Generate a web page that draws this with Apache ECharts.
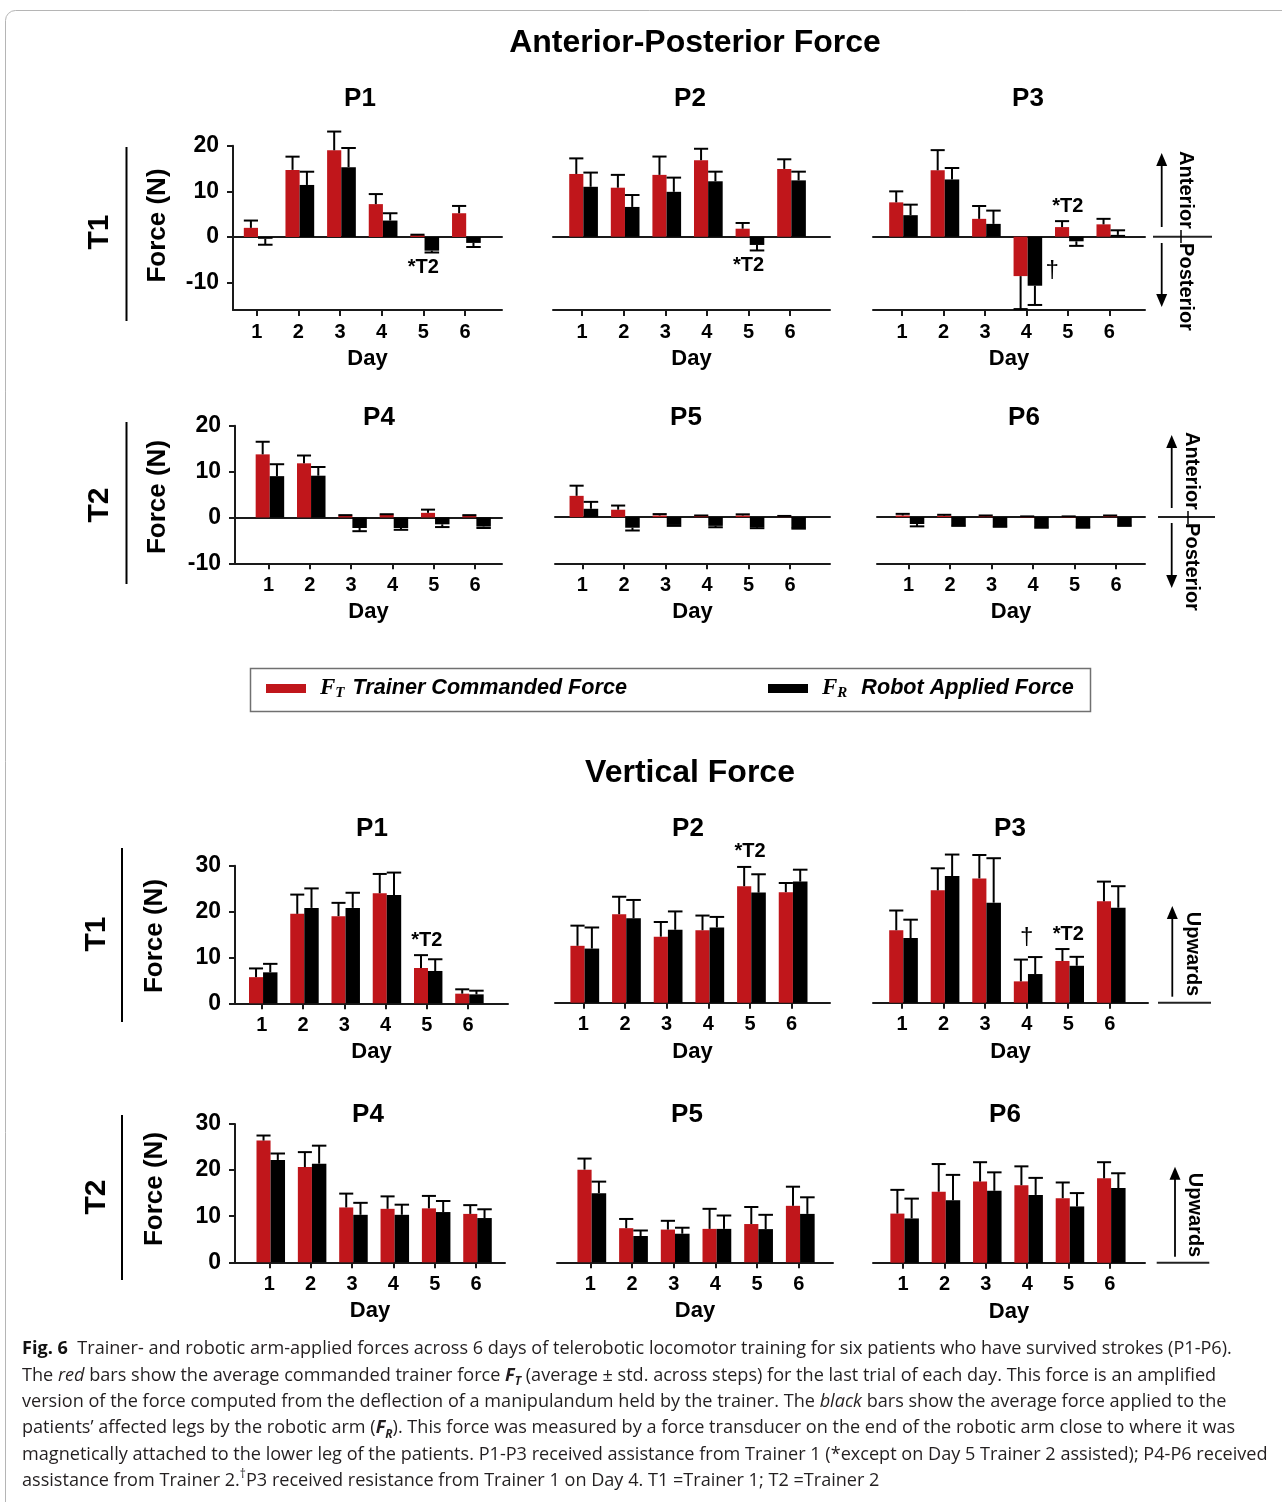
<!DOCTYPE html>
<html>
<head>
<meta charset="utf-8">
<script src="https://cdn.jsdelivr.net/npm/echarts@6/dist/echarts.min.js"></script>
<style>
html,body{margin:0;padding:0;background:#fff;}
#c{width:1282px;height:1502px;}
</style>
</head>
<body>
<div id="c"></div>
<script>
// ---------- DATA ----------
const days = [1, 2, 3, 4, 5, 6];
const apTicks = [-10, 0, 10, 20];
const vTicks = [0, 10, 20, 30];

// Anterior-Posterior force (N): mean and std for trainer (FT) and robot (FR)
const apP1_FT = [2.0, 14.7, 19.0, 7.2, 0.4, 5.2];
const apP1_FTsd = [1.6, 2.9, 4.1, 2.2, 0.1, 1.6];
const apP1_FR = [-0.4, 11.4, 15.3, 3.6, -3.0, -1.3];
const apP1_FRsd = [1.3, 2.9, 4.2, 1.6, 0.4, 0.9];

const apP2_FT = [13.7, 10.7, 13.5, 16.7, 1.75, 14.8];
const apP2_FTsd = [3.4, 2.8, 4.0, 2.5, 1.25, 2.1];
const apP2_FR = [10.9, 6.5, 9.8, 12.1, -1.8, 12.3];
const apP2_FRsd = [3.1, 2.6, 3.1, 2.1, 1.2, 1.9];

const apP3_FT = [7.5, 14.5, 3.9, -8.6, 2.1, 2.7];
const apP3_FTsd = [2.4, 4.4, 2.8, 7.2, 1.3, 1.2];
const apP3_FR = [4.7, 12.5, 2.8, -10.7, -1.0, 0.4];
const apP3_FRsd = [2.3, 2.5, 2.9, 4.2, 1.0, 1.0];

const apP4_FT = [13.75, 11.8, 0.4, 0.6, 1.0, 0.4];
const apP4_FTsd = [2.75, 1.7, 0.1, 0.1, 0.7, 0.1];
const apP4_FR = [9.0, 9.1, -2.3, -2.3, -1.5, -2.0];
const apP4_FRsd = [2.6, 1.9, 0.7, 0.4, 0.6, 0.3];

const apP5_FT = [4.6, 1.6, 0.35, 0.3, 0.35, 0.2];
const apP5_FTsd = [2.2, 0.9, 0.3, 0.05, 0.25, 0.05];
const apP5_FR = [1.8, -2.3, -1.7, -1.9, -2.2, -2.4];
const apP5_FRsd = [1.5, 0.6, 0.2, 0.3, 0.2, 0.1];

const apP6_FT = [0.35, 0.3, 0.2, 0.1, 0.1, 0.2];
const apP6_FTsd = [0.35, 0.2, 0.15, 0.05, 0.05, 0.15];
const apP6_FR = [-1.5, -1.8, -2.0, -2.2, -2.2, -1.8];
const apP6_FRsd = [0.5, 0.1, 0.1, 0.1, 0.1, 0.1];

// Vertical force (N)
const vP1_FT = [5.7, 19.5, 19.0, 24.0, 7.7, 2.1];
const vP1_FTsd = [1.9, 4.2, 2.9, 4.2, 2.8, 0.95];
const vP1_FR = [6.75, 20.8, 20.8, 23.6, 7.05, 1.95];
const vP1_FRsd = [1.85, 4.25, 3.3, 4.9, 2.55, 0.8];

const vP2_FT = [12.4, 19.3, 14.4, 15.8, 25.4, 24.1];
const vP2_FTsd = [4.4, 3.8, 3.2, 3.2, 4.2, 2.0];
const vP2_FR = [11.8, 18.4, 15.9, 16.4, 24.0, 26.4];
const vP2_FRsd = [4.6, 4.0, 4.0, 2.3, 4.0, 2.6];

const vP3_FT = [15.8, 24.5, 27.1, 4.65, 9.1, 22.1];
const vP3_FTsd = [4.3, 4.8, 5.1, 4.75, 2.6, 4.3];
const vP3_FR = [14.1, 27.6, 21.8, 6.25, 8.05, 20.7];
const vP3_FRsd = [4.0, 4.7, 9.7, 3.7, 1.95, 4.7];

const vP4_FT = [26.4, 20.65, 11.9, 11.6, 11.7, 10.5];
const vP4_FTsd = [1.1, 3.25, 3.0, 2.7, 2.7, 1.9];
const vP4_FR = [22.2, 21.4, 10.3, 10.3, 10.9, 9.6];
const vP4_FRsd = [1.4, 3.9, 2.6, 2.2, 2.4, 1.9];

const vP5_FT = [20.1, 7.4, 7.1, 7.25, 8.3, 12.25];
const vP5_FTsd = [2.4, 2.0, 1.9, 4.35, 3.7, 4.15];
const vP5_FR = [15.0, 5.7, 6.2, 7.25, 7.2, 10.5];
const vP5_FRsd = [2.5, 1.2, 1.3, 2.9, 3.1, 3.6];

const vP6_FT = [10.65, 15.4, 17.6, 16.8, 14.0, 18.3];
const vP6_FTsd = [5.15, 6.0, 4.2, 4.1, 3.4, 3.5];
const vP6_FR = [9.6, 13.55, 15.6, 14.7, 12.2, 16.2];
const vP6_FRsd = [4.3, 5.5, 4.0, 3.7, 2.9, 3.2];

// Annotations: [day, text, placement]
const apP1_notes = [[5, '*T2', 'below']];
const apP2_notes = [[5, '*T2', 'below']];
const apP3_notes = [[5, '*T2', 'above'], [4, '†', 'right']];
const vP1_notes = [[5, '*T2', 'above']];
const vP2_notes = [[5, '*T2', 'above']];
const vP3_notes = [[4, '†', 'above'], [5, '*T2', 'above']];

// ---------- STYLE / LAYOUT ----------
const FONT = "'Liberation Sans', Arial, Helvetica, sans-serif";
const CAPFONT = "'Open Sans', 'Noto Sans', sans-serif";
const RED = '#c0161b';
const BLACK = '#000000';
const AX = '#1a1a1a';

const panels = [
  {t:'P1', ft:apP1_FT, fts:apP1_FTsd, fr:apP1_FR, frs:apP1_FRsd, notes:apP1_notes, box:[233,145.7,269,164.3], y:[-16,20], yt:apTicks, x:[0.43,6.89], showY:true, zero:true, tp:[360,97]},
  {t:'P2', ft:apP2_FT, fts:apP2_FTsd, fr:apP2_FR, frs:apP2_FRsd, notes:apP2_notes, box:[553,145.1,277,164.9], y:[-16,20], yt:apTicks, x:[0.30,6.96], showY:false, zero:true, tp:[690,97]},
  {t:'P3', ft:apP3_FT, fts:apP3_FTsd, fr:apP3_FR, frs:apP3_FRsd, notes:apP3_notes, box:[873,145.1,272,164.9], y:[-16,20], yt:apTicks, x:[0.30,6.86], showY:false, zero:true, tp:[1028,97]},
  {t:'P4', ft:apP4_FT, fts:apP4_FTsd, fr:apP4_FR, frs:apP4_FRsd, notes:[], box:[235,425.7,267,137.6], y:[-10,20], yt:apTicks, x:[0.19,6.65], showY:true, zero:true, tp:[379,416]},
  {t:'P5', ft:apP5_FT, fts:apP5_FTsd, fr:apP5_FR, frs:apP5_FRsd, notes:[], box:[555,424.7,275,138.6], y:[-10,20], yt:apTicks, x:[0.34,6.96], showY:false, zero:true, tp:[686,416]},
  {t:'P6', ft:apP6_FT, fts:apP6_FTsd, fr:apP6_FR, frs:apP6_FRsd, notes:[], box:[877,424.7,268,138.6], y:[-10,20], yt:apTicks, x:[0.24,6.70], showY:false, zero:true, tp:[1024,416]},
  {t:'P1', ft:vP1_FT, fts:vP1_FTsd, fr:vP1_FR, frs:vP1_FRsd, notes:vP1_notes, box:[235,865.7,273,137.6], y:[0,30], yt:vTicks, x:[0.35,6.97], showY:true, zero:false, tp:[372,827]},
  {t:'P2', ft:vP2_FT, fts:vP2_FTsd, fr:vP2_FR, frs:vP2_FRsd, notes:vP2_notes, box:[555,865.1,275,137.6], y:[0,30], yt:vTicks, x:[0.32,6.92], showY:false, zero:false, tp:[688,827]},
  {t:'P3', ft:vP3_FT, fts:vP3_FTsd, fr:vP3_FR, frs:vP3_FRsd, notes:vP3_notes, box:[873,865.1,275,137.6], y:[0,30], yt:vTicks, x:[0.30,6.92], showY:false, zero:false, tp:[1010,827]},
  {t:'P4', ft:vP4_FT, fts:vP4_FTsd, fr:vP4_FR, frs:vP4_FRsd, notes:[], box:[235,1124,270,138.3], y:[0,30], yt:vTicks, x:[0.17,6.70], showY:true, zero:false, tp:[368,1113]},
  {t:'P5', ft:vP5_FT, fts:vP5_FTsd, fr:vP5_FR, frs:vP5_FRsd, notes:[], box:[557,1124,276,138.3], y:[0,30], yt:vTicks, x:[0.20,6.82], showY:false, zero:false, tp:[687,1113]},
  {t:'P6', ft:vP6_FT, fts:vP6_FTsd, fr:vP6_FR, frs:vP6_FRsd, notes:[], box:[873,1124.4,272,138.3], y:[0,30], yt:vTicks, x:[0.27,6.85], showY:false, zero:false, tp:[1005,1113]}
];

// bar + one-sided error bar renderer
function barRenderer(kind) {
  return function (params, api) {
    const d = api.value(0), m = api.value(1), s = api.value(2);
    const u = api.size([1, 0])[0];
    const c = api.coord([d, 0]);
    const x0 = c[0] + (kind === 0 ? -0.31 : 0.03) * u;
    const w = (kind === 0 ? 0.34 : 0.35) * u;
    const pm = api.coord([d, m]);
    const sign = m < 0 ? -1 : 1;
    const pe = api.coord([d, m + sign * s]);
    const cx = x0 + w / 2;
    const top = Math.min(c[1], pm[1]);
    const h = Math.max(Math.abs(c[1] - pm[1]), 0.8);
    return {
      type: 'group',
      children: [
        {type: 'rect', shape: {x: x0, y: top, width: w, height: h}, style: {fill: api.visual('color')}},
        {type: 'line', shape: {x1: cx, y1: pm[1], x2: cx, y2: pe[1]}, style: {stroke: '#000', lineWidth: 2}},
        {type: 'line', shape: {x1: cx - w * 0.5, y1: pe[1], x2: cx + w * 0.5, y2: pe[1]}, style: {stroke: '#000', lineWidth: 2}}
      ]
    };
  };
}

function noteRenderer(p) {
  return function (params, api) {
    const n = p.notes[params.dataIndex];
    const d = api.value(0), a = api.value(1);
    const pt = api.coord([d, a]);
    const u = api.size([1, 0])[0];
    let x = pt[0], y = pt[1];
    const dagger = n[1] === '†';
    if (n[2] === 'below') y += 15;
    else if (n[2] === 'above') y -= dagger ? 20 : 15;
    else { x += 0.62 * u; y -= 15; }
    return {
      type: 'text', x: x, y: y,
      style: {
        text: n[1], fill: '#000', align: 'center', verticalAlign: 'middle',
        fontFamily: FONT, fontSize: dagger ? 24 : 20, fontWeight: dagger ? 'normal' : 'bold'
      }
    };
  };
}

function noteAnchor(p, n) {
  const i = days.indexOf(n[0]);
  const ends = [p.ft[i] + (p.ft[i] < 0 ? -p.fts[i] : p.fts[i]), p.fr[i] + (p.fr[i] < 0 ? -p.frs[i] : p.frs[i])];
  if (n[2] === 'below') return Math.min(0, ends[0], ends[1]);
  if (n[2] === 'above') return Math.max(0, ends[0], ends[1]);
  return p.fr[i];
}

const grids = [], xAxes = [], yAxes = [], series = [];
const titles = [
  {text: 'Anterior-Posterior Force', left: 695, top: 27, textAlign: 'center', padding: 0,
   textStyle: {fontFamily: FONT, fontSize: 32, fontWeight: 'bold', color: '#000'}},
  {text: 'Vertical Force', left: 690, top: 757, textAlign: 'center', padding: 0,
   textStyle: {fontFamily: FONT, fontSize: 32, fontWeight: 'bold', color: '#000'}}
];
const axisLineStyle = {color: AX, width: 2};
const labelStyle = {fontFamily: FONT, fontWeight: 'bold', color: '#000'};

panels.forEach(function (p, k) {
  grids.push({left: p.box[0], top: p.box[1], width: p.box[2], height: p.box[3], outerBoundsMode: 'none', containLabel: false});
  titles.push({text: p.t, left: p.tp[0], top: p.tp[1] - 11, textAlign: 'center', padding: 0,
    textStyle: {fontFamily: FONT, fontSize: 26, fontWeight: 'bold', color: '#000'}});
  const xi = xAxes.length;
  xAxes.push({
    type: 'value', gridIndex: k, min: p.x[0], max: p.x[1], position: 'bottom',
    name: 'Day', nameLocation: 'middle', nameGap: 38,
    nameTextStyle: Object.assign({fontSize: 22}, labelStyle),
    axisLine: {show: true, onZero: false, lineStyle: axisLineStyle},
    axisTick: {show: true, inside: false, length: 6, customValues: days, lineStyle: axisLineStyle},
    axisLabel: Object.assign({show: true, margin: 12, fontSize: 20, customValues: days}, labelStyle),
    splitLine: {show: false}
  });
  if (p.zero) {
    xAxes.push({
      type: 'value', gridIndex: k, min: p.x[0], max: p.x[1], position: 'bottom',
      axisLine: {show: true, onZero: true, lineStyle: axisLineStyle},
      axisTick: {show: false}, axisLabel: {show: false}, splitLine: {show: false}
    });
  }
  yAxes.push({
    type: 'value', gridIndex: k, min: p.y[0], max: p.y[1], show: p.showY,
    axisLine: {show: p.showY, onZero: false, lineStyle: axisLineStyle},
    axisTick: {show: p.showY, inside: false, length: 6, customValues: p.yt, lineStyle: axisLineStyle},
    axisLabel: Object.assign({show: p.showY, margin: 14, fontSize: 23, customValues: p.yt}, labelStyle),
    splitLine: {show: false}
  });
  series.push({
    type: 'custom', name: 'FT', xAxisIndex: xi, yAxisIndex: k, clip: false, silent: true,
    itemStyle: {color: RED}, encode: {x: 0, y: 1},
    data: days.map(function (d, i) { return [d, p.ft[i], p.fts[i]]; }),
    renderItem: barRenderer(0)
  });
  series.push({
    type: 'custom', name: 'FR', xAxisIndex: xi, yAxisIndex: k, clip: false, silent: true,
    itemStyle: {color: BLACK}, encode: {x: 0, y: 1},
    data: days.map(function (d, i) { return [d, p.fr[i], p.frs[i]]; }),
    renderItem: barRenderer(1)
  });
  if (p.notes.length) {
    series.push({
      type: 'custom', name: 'notes', xAxisIndex: xi, yAxisIndex: k, clip: false, silent: true, z: 5,
      encode: {x: 0, y: 1},
      data: p.notes.map(function (n) { return [n[0], noteAnchor(p, n)]; }),
      renderItem: noteRenderer(p)
    });
  }
});

// ---------- DECORATION (graphic) ----------
const G = [];
G.push({type: 'rect', shape: {x: 5.5, y: 10.5, width: 1320, height: 1520, r: 10}, style: {fill: 'none', stroke: '#b5b5b5', lineWidth: 1}, z: -1});
G.push({type: 'rect', shape: {x: 250.5, y: 668.5, width: 840, height: 43}, style: {fill: 'none', stroke: '#707070', lineWidth: 1.5}});

function vtext(x, y, text, size, rot) {
  return {type: 'text', x: x, y: y, rotation: rot, style: {text: text, fill: '#000', fontFamily: FONT, fontWeight: 'bold', fontSize: size, align: 'center', verticalAlign: 'middle'}};
}
function vline(x, y1, y2, w) { return {type: 'line', shape: {x1: x, y1: y1, x2: x, y2: y2}, style: {stroke: '#000', lineWidth: w || 2}}; }
function hline(x1, x2, y, w) { return {type: 'line', shape: {x1: x1, y1: y, x2: x2, y2: y}, style: {stroke: '#222', lineWidth: w || 2}}; }
function arrow(x, yFrom, yTip) {
  const dir = yTip < yFrom ? 1 : -1;
  return [
    {type: 'line', shape: {x1: x, y1: yFrom, x2: x, y2: yTip + dir * 8}, style: {stroke: '#000', lineWidth: 1.8}},
    {type: 'polygon', shape: {points: [[x, yTip], [x - 5.5, yTip + dir * 13], [x + 5.5, yTip + dir * 13]]}, style: {fill: '#000'}}
  ];
}
const UP = Math.PI / 2, DOWN = -Math.PI / 2;
// Trainer group labels
[[100, 232, 126.5, 147, 321, 158, 225.5], [100, 505, 126.5, 422, 584, 158, 497],
 [97, 934, 122, 848, 1022, 155, 936], [97, 1197, 122, 1115, 1280, 155, 1189]].forEach(function (r, i) {
  G.push(vtext(r[0], r[1], i % 2 === 0 ? 'T1' : 'T2', 30, UP));
  G.push(vline(r[2], r[3], r[4], 2));
  G.push(vtext(r[5], r[6], 'Force (N)', 26, UP));
});
// Direction indicators
G.push(hline(1153, 1212, 236.7), vline(1181, 230, 243, 1.5));
G.push.apply(G, arrow(1161.7, 227, 153));
G.push.apply(G, arrow(1161.7, 243, 307));
G.push(vtext(1186, 190, 'Anterior', 20, DOWN), vtext(1186, 287, 'Posterior', 20, DOWN));
G.push(hline(1158, 1215, 517), vline(1188, 511, 524, 1.5));
G.push.apply(G, arrow(1171.7, 508, 435));
G.push.apply(G, arrow(1171.7, 523, 588));
G.push(vtext(1192, 471, 'Anterior', 20, DOWN), vtext(1192, 567, 'Posterior', 20, DOWN));
G.push(hline(1158, 1211, 1002.7));
G.push.apply(G, arrow(1172.3, 996.7, 906));
G.push(vtext(1193, 954, 'Upwards', 20, DOWN));
G.push(hline(1156.7, 1209.3, 1262.7));
G.push.apply(G, arrow(1175, 1256.7, 1166.7));
G.push(vtext(1195, 1215, 'Upwards', 20, DOWN));

// Caption
const CS = 18.1, CC = '#231f20';
const capRich = {
  b: {fontFamily: CAPFONT, fontSize: CS, fontWeight: 'bold', fill: '#111', lineHeight: 24},
  i: {fontFamily: CAPFONT, fontSize: CS, fontStyle: 'italic', fill: CC, lineHeight: 24},
  bi: {fontFamily: CAPFONT, fontSize: CS, fontStyle: 'italic', fontWeight: 'bold', fill: CC, lineHeight: 24},
  sub: {fontFamily: CAPFONT, fontSize: 12, fontStyle: 'italic', fontWeight: 'bold', fill: CC, lineHeight: 12, verticalAlign: 'bottom'},
  sup: {fontFamily: CAPFONT, fontSize: 12, fill: CC, lineHeight: 12, verticalAlign: 'top'}
};
const capLines = [
  '{b|Fig. 6}  Trainer- and robotic arm-applied forces across 6 days of telerobotic locomotor training for six patients who have survived strokes (P1-P6).',
  'The {i|red} bars show the average commanded trainer force {bi|F}{sub|T} (average ± std. across steps) for the last trial of each day. This force is an amplified',
  'version of the force computed from the deflection of a manipulandum held by the trainer. The {i|black} bars show the average force applied to the',
  'patients’ affected legs by the robotic arm ({bi|F}{sub|R}). This force was measured by a force transducer on the end of the robotic arm close to where it was',
  'magnetically attached to the lower leg of the patients. P1-P3 received assistance from Trainer 1 (*except on Day 5 Trainer 2 assisted); P4-P6 received',
  'assistance from Trainer 2.{sup|†}P3 received resistance from Trainer 1 on Day 4. T1 =Trainer 1; T2 =Trainer 2'
];
capLines.forEach(function (t, i) {
  G.push({type: 'text', x: 22, y: 1349 + i * 26.4, style: {text: t, rich: capRich, fill: CC, fontFamily: CAPFONT, fontSize: CS, lineHeight: 24, align: 'left', verticalAlign: 'middle'}});
});

// Legend rich text
function legRich(pad) {
  return {
    f: {fontFamily: "'Liberation Serif', 'Times New Roman', serif", fontSize: 23, fontWeight: 'bold', fontStyle: 'italic', color: '#000', lineHeight: 24, padding: [0, 0, 0, 9]},
    s: {fontFamily: "'Liberation Serif', 'Times New Roman', serif", fontSize: 15, fontWeight: 'bold', fontStyle: 'italic', color: '#000', lineHeight: 15, verticalAlign: 'bottom'},
    t: {fontFamily: FONT, fontSize: 21.6, fontWeight: 'bold', fontStyle: 'italic', color: '#000', lineHeight: 24, padding: [0, 0, 0, pad]}
  };
}
const legendNames = {FT: ['T', 'Trainer Commanded Force'], FR: ['R', 'Robot Applied Force']};
function legFmt(name) { return '{f|F}{s|' + legendNames[name][0] + '}{t|' + legendNames[name][1] + '}'; }

const option = {
  animation: false,
  backgroundColor: '#ffffff',
  title: titles,
  legend: [
    {data: ['FT'], left: 266, top: 677, icon: 'rect', itemWidth: 40, itemHeight: 9, padding: 0, selectedMode: false, formatter: legFmt, textStyle: {rich: legRich(8)}},
    {data: ['FR'], left: 768, top: 677, icon: 'rect', itemWidth: 40, itemHeight: 9, padding: 0, selectedMode: false, formatter: legFmt, textStyle: {rich: legRich(14)}}
  ],
  grid: grids,
  xAxis: xAxes,
  yAxis: yAxes,
  series: series,
  graphic: {elements: G}
};

const chart = echarts.init(document.getElementById('c'));
chart.setOption(option);
</script>
</body>
</html>
